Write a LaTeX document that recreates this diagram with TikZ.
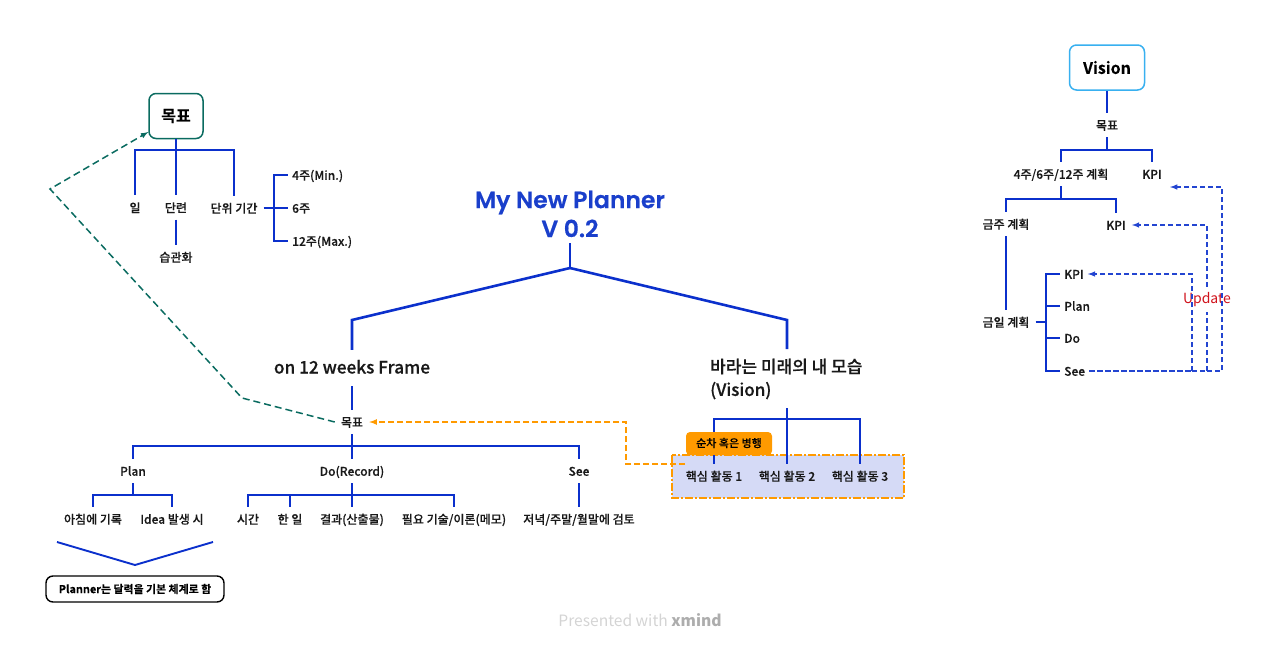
\documentclass[tikz,border=0pt]{standalone}
\usepackage{fontspec}
\usepackage{xcolor}
\usepackage{tikz}
\usetikzlibrary{positioning,shapes,arrows}
\setmainfont{Noto Sans CJK KR Medium}[BoldFont={Noto Sans CJK KR Bold},FakeBold=0.08]
\newfontfamily\titlefont{Poppins SemiBold}[FakeBold=0.4]
\newfontfamily\headfont{Noto Sans CJK KR Medium}[FakeBold=0.45]
\newfontfamily\lightfont{Noto Sans CJK KR}
\definecolor{planblue}{HTML}{0B30CC}
\definecolor{titleblue}{HTML}{1A3FCB}
\definecolor{goalteal}{HTML}{0A6B60}
\definecolor{visioncyan}{HTML}{38B0F0}
\definecolor{noteorange}{HTML}{FF9A00}
\definecolor{groupfill}{HTML}{D5DAF6}
\definecolor{updatered}{HTML}{D0121B}
\tikzset{
  lab/.style={inner xsep=6pt,inner ysep=0pt,minimum height=24pt,text height=10.5pt,text depth=1pt,font=\fontsize{12}{14}\selectfont,text=black!90},
  branch/.style={draw=planblue,line width=1.9pt},
  branchthick/.style={draw=planblue,line width=2.6pt},
  updateline/.style={draw=planblue!90,line width=1.5pt,dash pattern=on 5pt off 3pt},
  rootbox/.style={rounded corners=7pt,line width=1.5pt,fill=white,font=\fontsize{16}{18}\selectfont\bfseries}
}
\begin{document}
\begin{tikzpicture}[x=1pt,y=-1pt]
\useasboundingbox (0,0) rectangle (1280,648);
\fill [groupfill] (672,455) rectangle (904,498);
\draw [noteorange,line width=1.6pt,dash pattern=on 8pt off 2pt on 2pt off 2pt] (672,455) rectangle (904,498);

\node [rootbox,draw=goalteal,minimum width=54pt,minimum height=45pt] (goal) at (176,116) {목표};
\node [lab] (il) at (135,207.5) {일};
\node [lab] (dan) at (176,207.5) {단련};
\node [lab] (gigan) at (234,208) {단위 기간};
\node [lab] (habit) at (176,257) {습관화};
\node [lab,anchor=west,inner xsep=4pt] (week4) at (288,175) {4주(Min.)};
\node [lab,anchor=west,inner xsep=4pt] (week6) at (288,208) {6주};
\node [lab,anchor=west,inner xsep=4pt] (week12) at (288,241) {12주(Max.)};
\coordinate (goalbus) at (176,150);
\coordinate (weekbus) at (274,208);
\draw [branch] (goal.south) -- (goalbus);
\draw [branch] (goalbus) -| (il.north);
\draw [branch] (goalbus) -- (dan.north);
\draw [branch] (goalbus) -| (gigan.north);
\draw [branch] (dan.south) -- (habit.north);
\draw [branch] (gigan.east) -- (week6.west);
\draw [branch] (weekbus) |- (week4.west);
\draw [branch] (weekbus) |- (week12.west);

\node [font=\fontsize{23.5}{29}\selectfont\titlefont,text=titleblue,align=center,inner sep=0pt,minimum height=58pt] (title) at (570,214) {My New Planner\\V 0.2};
\coordinate (titlebus) at (570,268);
\node [lab,font=\fontsize{17.2}{19}\selectfont\headfont,text height=12pt,minimum height=36pt] (frame) at (352,368) {on 12 weeks Frame};
\node [lab,anchor=west,inner xsep=0pt,inner ysep=2pt,align=left,text height=,text depth=,font=\fontsize{17}{23}\selectfont\headfont] (wish) at (710,379) {바라는 미래의 내 모습\\(Vision)};
\coordinate (framedrop) at (352,320);
\coordinate (wishdrop) at (787,320);
\draw [branchthick] (title.south) -- (titlebus);
\draw [branchthick] (titlebus) -- (framedrop) -- (frame.north);
\draw [branchthick] (titlebus) -- (wishdrop) -- (787,349);

\node [lab] (aim) at (352,422) {목표};
\node [lab] (plan) at (133,471) {Plan};
\node [lab] (do) at (352,471) {Do(Record)};
\node [lab] (see) at (579,471) {See};
\node [lab] (morning) at (93,519) {아침에 기록};
\node [lab] (idea) at (172,519) {Idea 발생 시};
\node [lab] (time) at (248,519) {시간};
\node [lab] (work) at (290,519) {한 일};
\node [lab] (result) at (352,519) {결과(산출물)};
\node [lab] (skill) at (454,519) {필요 기술/이론(메모)};
\node [lab] (review) at (579,519) {저녁/주말/월말에 검토};
\coordinate (aimbus) at (352,446);
\coordinate (planbus) at (133,495);
\coordinate (dobus) at (352,495);
\draw [branch] (frame.south) -- (aim.north);
\draw [branch] (aim.south) -- (do.north);
\draw [branch] (aimbus) -| (plan.north);
\draw [branch] (aimbus) -| (see.north);
\draw [branch] (plan.south) -- (planbus);
\draw [branch] (planbus) -| (morning.north);
\draw [branch] (planbus) -| (idea.north);
\draw [branch] (do.south) -- (result.north);
\draw [branch] (dobus) -| (time.north);
\draw [branch] (dobus) -| (work.north);
\draw [branch] (dobus) -| (skill.north);
\draw [branch] (see.south) -- (review.north);

\coordinate (chevleft) at (57,542);
\coordinate (chevtip) at (135,565);
\coordinate (chevright) at (213,542);
\draw [branch] (chevleft) -- (chevtip) -- (chevright);
\node [draw=black,rounded corners=7pt,line width=1.4pt,minimum width=178pt,minimum height=26pt,inner sep=0pt,font=\fontsize{10.9}{13}\selectfont\bfseries] (calendar) at (135,589) {Planner는 달력을 기본 체계로 함};

\node [lab] (core1) at (714,476) {핵심 활동 1};
\node [lab] (core2) at (787,476) {핵심 활동 2};
\node [lab] (core3) at (860,476) {핵심 활동 3};
\coordinate (coretop) at (787,408);
\coordinate (corebus) at (787,419);
\draw [branch] (coretop) -- (core2.north);
\draw [branch,line width=1.6pt] (corebus) -| (core1.north);
\draw [branch,line width=1.6pt] (corebus) -| (core3.north);
\fill [noteorange,rounded corners=4pt] (686,455) -- (686,432) -- (772,432) -- (772,455) -- cycle;
\node [inner sep=0pt,font=\fontsize{11}{13}\selectfont] (order) at (729,443) {순차 혹은 병행};
\draw [branch] (core1.north) -- (714,455);

\coordinate (orangestart) at (685,464);
\coordinate (orangebend) at (626,464);
\draw [-latex,noteorange,line width=1.6pt,dash pattern=on 6pt off 3pt] (orangestart) -- (orangebend) |- (aim.east);

\coordinate (tealfirst) at (242,398);
\coordinate (tealsecond) at (50,189);
\draw [-latex,goalteal,line width=1.5pt,dash pattern=on 7pt off 4pt] (aim.west) -- (tealfirst) -- (tealsecond) -- (goal.210);

\node [rootbox,draw=visioncyan,minimum width=75pt,minimum height=45pt] (vision) at (1107,67.5) {Vision};
\node [lab] (vaim) at (1107,125) {목표};
\node [lab] (vweeks) at (1061,174) {4주/6주/12주 계획};
\node [lab] (vkpi) at (1152,174) {KPI};
\node [lab] (thisweek) at (1006,224) {금주 계획};
\node [lab] (weekkpi) at (1116,225) {KPI};
\node [lab] (today) at (1006,322) {금일 계획};
\node [lab,anchor=west,inner xsep=4pt] (daykpi) at (1060,274) {KPI};
\node [lab,anchor=west,inner xsep=4pt] (dayplan) at (1060,306) {Plan};
\node [lab,anchor=west,inner xsep=4pt] (daydo) at (1060,338) {Do};
\node [lab,anchor=west,inner xsep=4pt] (daysee) at (1060,371) {See};
\node [inner sep=0pt,minimum height=25pt,font=\fontsize{14}{16}\selectfont\lightfont,text=updatered] (update) at (1207,299.5) {Update};
\coordinate (vaimbus) at (1107,150);
\coordinate (vweekbus) at (1061,199);
\coordinate (daybus) at (1046,322);
\draw [branch] (vision.south) -- (vaim.north);
\draw [branch] (vaim.south) -- (vaimbus);
\draw [branch] (vaimbus) -| (vweeks.north);
\draw [branch] (vaimbus) -| (vkpi.north);
\draw [branch] (vweeks.south) -- (vweekbus);
\draw [branch] (vweekbus) -| (thisweek.north);
\draw [branch] (vweekbus) -| (weekkpi.north);
\draw [branch] (thisweek.south) -- (today.north);
\draw [branch] (today.east) -- (daybus);
\draw [branch] (daybus) |- (daykpi.west);
\draw [branch] (dayplan.west -| daybus) -- (dayplan.west);
\draw [branch] (daydo.west -| daybus) -- (daydo.west);
\draw [branch] (daybus) |- (daysee.west);

\coordinate (seeinner) at (1192,371);
\coordinate (seemid) at (1207,371);
\coordinate (seeouter) at (1222,371);
\coordinate (vkpientry) at (1170,187);
\draw [updateline,-latex] (seemid) -- (seeouter) |- (vkpientry);
\draw [updateline] (seemid) -- (update.south);
\draw [updateline,-latex] (update.north) |- (weekkpi.east);
\draw [updateline,line width=2.1pt] (seeinner) -- (seemid);
\draw [updateline,line width=2.8pt,dash pattern=on 6pt off 2pt] (daysee.east) -- (seeinner);
\draw [updateline,-latex] (seeinner) |- (daykpi.east);

\node [font=\fontsize{15.6}{18}\selectfont\lightfont,text=black!17,inner sep=0pt] (credit) at (640,620) {Presented with {\color{black!32}\bfseries xmind}};
\end{tikzpicture}
\end{document}
